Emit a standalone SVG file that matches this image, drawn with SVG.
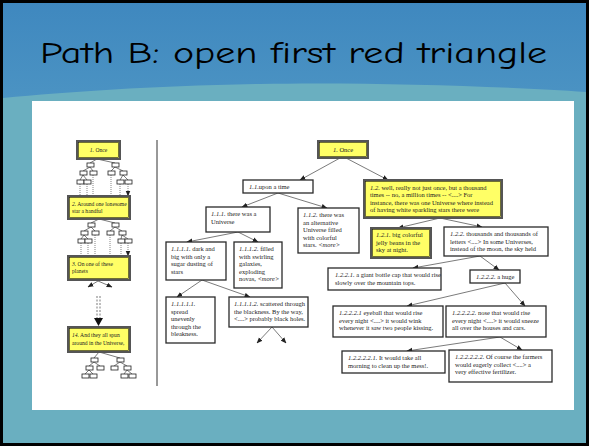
<svg xmlns="http://www.w3.org/2000/svg" width="589" height="446" viewBox="0 0 589 446">
<defs>
<style>
.box{fill:#fff;stroke:#2a2a2a;stroke-width:1.3}
.yb{fill:#ffff66;stroke:#555;stroke-width:2}
.yi{fill:none;stroke:#111;stroke-width:0.6}
.t{font-family:"Liberation Serif","Times New Roman",serif;font-size:6.5px;fill:#222}
.s{font-size:5.6px}
.e{font-style:italic}
.c{stroke:#222;stroke-width:0.6;fill:none;marker-end:url(#ah)}
.d{stroke:#333;stroke-width:0.6;stroke-dasharray:1 1;fill:none;marker-end:url(#ah)}
.l{stroke:#222;stroke-width:0.6;fill:none}
.m{fill:#fff;stroke:#222;stroke-width:0.8}
</style>
<marker id="ah" viewBox="0 0 10 10" refX="9" refY="5" markerWidth="6" markerHeight="6" orient="auto" markerUnits="userSpaceOnUse"><path d="M0,1 L10,5 L0,9 z" fill="#222"/></marker>
<linearGradient id="bg" x1="0" y1="0" x2="0" y2="1"><stop offset="0" stop-color="#3f88bf"/><stop offset="1" stop-color="#4b93c3"/></linearGradient>
</defs>
<rect x="0" y="0" width="589" height="446" fill="#000"/>
<rect x="3" y="3" width="583" height="440" fill="#6aafc0"/>
<path d="M3,3 H586 V92 C500,86 360,82 260,84 C150,86 70,92 3,98 Z" fill="url(#bg)"/>
<text x="40" y="63" font-family="'Comic Neue','DejaVu Sans',sans-serif" font-size="31" fill="#000" textLength="507" lengthAdjust="spacingAndGlyphs">Path B: open first red triangle</text>
<rect x="32" y="101" width="542" height="309" fill="#fff"/>
<line x1="157" y1="140" x2="157" y2="386" stroke="#333" stroke-width="1"/>

<g id="connectors">
<path class="c" d="M340,158 L300,180"/>
<path class="c" d="M346,158 L388,180"/>
<path class="c" d="M278,193 L242,207"/>
<path class="c" d="M278,193 L327,208"/>
<path class="c" d="M238,232 L187,242"/>
<path class="c" d="M238,232 L258,242"/>
<path class="c" d="M202,280 L177,297"/>
<path class="c" d="M202,280 L250,297"/>
<path class="c" d="M272,327 L257,343"/>
<path class="c" d="M272,327 L286,343"/>
<path class="c" d="M440,218 L398,228"/>
<path class="c" d="M440,218 L482,227"/>
<path class="c" d="M480,256 L413,268"/>
<path class="c" d="M480,256 L499,270"/>
<path class="c" d="M505,283 L407,306"/>
<path class="c" d="M505,283 L525,306"/>
<path class="c" d="M500,337 L407,351"/>
<path class="c" d="M500,337 L522,350"/>
<path class="c" d="M98,281 L88,287"/>
<path class="c" d="M98,281 L112,287"/>
<path class="l" d="M97,296 V320 M100,296 V320" stroke-dasharray="2 1.5"/>
<path d="M94,318 L103,318 L98.5,326 Z" fill="#111"/>
<!-- mini tree A -->
<path class="l" d="M97,159 L90,163 M97,159 L115,163 M90,167 L83,171 M90,167 L93,171 M115,167 L111,171 M115,167 L123,171 M83,175 L80,180 M83,175 L87,180 M123,175 L120,180 M123,175 L128,180"/>
<path class="d" d="M80,184 V196 M87,184 V196 M93,175 V196 M111,175 V196 M120,184 V196 M128,184 V196"/>
<!-- mini tree B -->
<path class="l" d="M99,219 L91,223 M99,219 L115,223 M91,227 L84,231 M91,227 L95,231 M115,227 L110,231 M115,227 L122,231 M84,235 L81,239 M84,235 L88,239 M122,235 L121,239 M122,235 L128,239"/>
<path class="d" d="M81,243 V256 M88,243 V256 M95,235 V256 M110,235 V256 M121,243 V256 M128,243 V256"/>
<!-- mini tree C -->
<path class="l" d="M99,352 L94,358 M99,352 L120,358 M94,362 L89,366 M94,362 L100,366 M120,362 L114,366 M120,362 L127,366 M89,370 L85,374 M89,370 L93,374 M127,370 L124,374 M127,370 L132,374"/>
</g>

<g id="minis">
<rect class="m" x="87" y="163" width="7" height="4"/><rect class="m" x="112" y="163" width="7" height="4"/>
<rect class="m" x="80" y="171" width="7" height="4"/><rect class="m" x="90" y="171" width="7" height="4"/><rect class="m" x="108" y="171" width="7" height="4"/><rect class="m" x="120" y="171" width="7" height="4"/>
<rect class="m" x="77" y="180" width="7" height="4"/><rect class="m" x="84" y="180" width="7" height="4"/><rect class="m" x="117" y="180" width="7" height="4"/><rect class="m" x="125" y="180" width="7" height="4"/>
<rect class="m" x="88" y="223" width="7" height="4"/><rect class="m" x="112" y="223" width="7" height="4"/>
<rect class="m" x="81" y="231" width="7" height="4"/><rect class="m" x="92" y="231" width="7" height="4"/><rect class="m" x="107" y="231" width="7" height="4"/><rect class="m" x="119" y="231" width="7" height="4"/>
<rect class="m" x="78" y="239" width="7" height="4"/><rect class="m" x="85" y="239" width="7" height="4"/><rect class="m" x="118" y="239" width="7" height="4"/><rect class="m" x="125" y="239" width="7" height="4"/>
<rect class="m" x="91" y="358" width="7" height="4"/><rect class="m" x="117" y="358" width="7" height="4"/>
<rect class="m" x="86" y="366" width="7" height="4"/><rect class="m" x="97" y="366" width="7" height="4"/><rect class="m" x="111" y="366" width="7" height="4"/><rect class="m" x="124" y="366" width="7" height="4"/>
<rect class="m" x="82" y="374" width="7" height="4"/><rect class="m" x="90" y="374" width="7" height="4"/><rect class="m" x="121" y="374" width="7" height="4"/><rect class="m" x="129" y="374" width="7" height="4"/>
</g>

<g id="L1"><rect class="yb" x="77" y="141" width="43" height="18"/><rect class="yi" x="78.5" y="142.5" width="40" height="15"/><text class="t s" x="98.5" y="152" text-anchor="middle"><tspan class="e">1.</tspan> Once</text></g>
<g id="L2"><rect class="yb" x="68" y="196" width="62" height="23"/><rect class="yi" x="69.5" y="197.5" width="59" height="20"/><text class="t s" x="72" y="205.5"><tspan class="e">2.</tspan> Around one lonesome</text><text class="t s" x="72" y="212.5">star a handful</text></g>
<g id="L3"><rect class="yb" x="68" y="256" width="62" height="24"/><rect class="yi" x="69.5" y="257.5" width="59" height="21"/><text class="t s" x="72" y="266"><tspan class="e">3.</tspan> On one of these</text><text class="t s" x="72" y="273">planets</text></g>
<g id="L14"><rect class="yb" x="68" y="327" width="62" height="25"/><rect class="yi" x="69.5" y="328.5" width="59" height="22"/><text class="t s" x="72" y="337"><tspan class="e">14.</tspan> And they all spun</text><text class="t s" x="72" y="344.5">around in the Universe,</text></g>

<g id="n1"><rect class="yb" x="318" y="141" width="50" height="17"/><rect class="yi" x="319.5" y="142.5" width="47" height="14"/><text class="t" x="343" y="152" text-anchor="middle"><tspan class="e">1.</tspan> Once</text></g>
<g id="n11"><rect class="box" x="243" y="180" width="70" height="13"/><text class="t" x="249" y="189"><tspan class="e">1.1.</tspan>upon a time</text></g>
<g id="n12"><rect class="yb" x="364" y="180" width="138" height="38"/><rect class="yi" x="365.5" y="181.5" width="135" height="35"/><text class="t" x="370" y="189.5"><tspan class="e">1.2.</tspan> well, really not just once, but a thousand</text><text class="t" x="370" y="197">times -- no, a million times -- &lt;....&gt;  For</text><text class="t" x="370" y="204.5">instance, there was one Universe where instead</text><text class="t" x="370" y="212">of having white sparkling stars there were</text></g>
<g id="n111"><rect class="box" x="206" y="207" width="64" height="25"/><text class="t" x="211" y="216"><tspan class="e">1.1.1.</tspan> there was a</text><text class="t" x="211" y="224">Universe</text></g>
<g id="n112"><rect class="box" x="298" y="208" width="61" height="45"/><text class="t" x="303" y="217"><tspan class="e">1.1.2.</tspan> there was</text><text class="t" x="303" y="224.5">an alternative</text><text class="t" x="303" y="232">Universe filled</text><text class="t" x="303" y="239.5">with colorful</text><text class="t" x="303" y="247">stars. <tspan class="e">&lt;more&gt;</tspan></text></g>
<g id="n1111"><rect class="box" x="166" y="242" width="60" height="38"/><text class="t" x="171" y="251"><tspan class="e">1.1.1.1.</tspan> dark and</text><text class="t" x="171" y="258.5">big with only a</text><text class="t" x="171" y="266">sugar dusting of</text><text class="t" x="171" y="273.5">stars</text></g>
<g id="n1112"><rect class="box" x="234" y="242" width="48" height="46"/><text class="t" x="239" y="251"><tspan class="e">1.1.1.2.</tspan> filled</text><text class="t" x="239" y="258.5">with swirling</text><text class="t" x="239" y="266">galaxies,</text><text class="t" x="239" y="273.5">exploding</text><text class="t" x="239" y="281">novas, <tspan class="e">&lt;more&gt;</tspan></text></g>
<g id="n11111"><rect class="box" x="166" y="297" width="49" height="46"/><text class="t" x="171" y="306"><tspan class="e">1.1.1.1.1.</tspan></text><text class="t" x="171" y="313.5">spread</text><text class="t" x="171" y="321">unevenly</text><text class="t" x="171" y="328.5">through the</text><text class="t" x="171" y="336">bleakness.</text></g>
<g id="n11112"><rect class="box" x="229" y="297" width="79" height="30"/><text class="t" x="234" y="306"><tspan class="e">1.1.1.1.2.</tspan> scattered  through</text><text class="t" x="234" y="313.5">the blackness. By the way,</text><text class="t" x="234" y="321">&lt;....&gt; probably black holes.</text></g>
<g id="n121"><rect class="yb" x="371" y="228" width="60" height="30"/><rect class="yi" x="372.5" y="229.5" width="57" height="27"/><text class="t" x="376" y="237"><tspan class="e">1.2.1.</tspan> big colorful</text><text class="t" x="376" y="244.5">jelly beans in the</text><text class="t" x="376" y="252">sky at night.</text></g>
<g id="n122"><rect class="box" x="444" y="227" width="104" height="29"/><text class="t" x="450" y="236"><tspan class="e">1.2.2.</tspan> thousands and thousands of</text><text class="t" x="450" y="243.5">letters &lt;....&gt; In some Universes,</text><text class="t" x="450" y="251">instead of the moon, the sky held</text></g>
<g id="n1221"><rect class="box" x="328" y="268" width="113" height="22"/><text class="t" x="335" y="277"><tspan class="e">1.2.2.1.</tspan> a giant bottle cap that would rise</text><text class="t" x="335" y="284.5">slowly over the mountain tops.</text></g>
<g id="n1222"><rect class="box" x="470" y="270" width="50" height="13"/><text class="t" x="476" y="279"><tspan class="e">1.2.2.2.</tspan> a huge</text></g>
<g id="n12221"><rect class="box" x="333" y="306" width="110" height="31"/><text class="t" x="339" y="315"><tspan class="e">1.2.2.2.1</tspan> eyeball that would rise</text><text class="t" x="339" y="322.5">every night &lt;....&gt; it would wink</text><text class="t" x="339" y="330">whenever it saw two people kissing.</text></g>
<g id="n12222"><rect class="box" x="446" y="306" width="100" height="31"/><text class="t" x="452" y="315"><tspan class="e">1.2.2.2.2.</tspan> nose that would rise</text><text class="t" x="452" y="322.5">every night &lt;....&gt; it would sneeze</text><text class="t" x="452" y="330">all over the houses and cars.</text></g>
<g id="n122221"><rect class="box" x="342" y="351" width="103" height="22"/><text class="t" x="348" y="360"><tspan class="e">1.2.2.2.2.1.</tspan> It would take all</text><text class="t" x="348" y="367.5">morning to clean up the mess!.</text></g>
<g id="n122222"><rect class="box" x="449" y="350" width="103" height="32"/><text class="t" x="455" y="359"><tspan class="e">1.2.2.2.2.2.</tspan> Of course the farmers</text><text class="t" x="455" y="366.5">would eagerly collect &lt;....&gt; a</text><text class="t" x="455" y="374">very effective fertilizer.</text></g>
</svg>
